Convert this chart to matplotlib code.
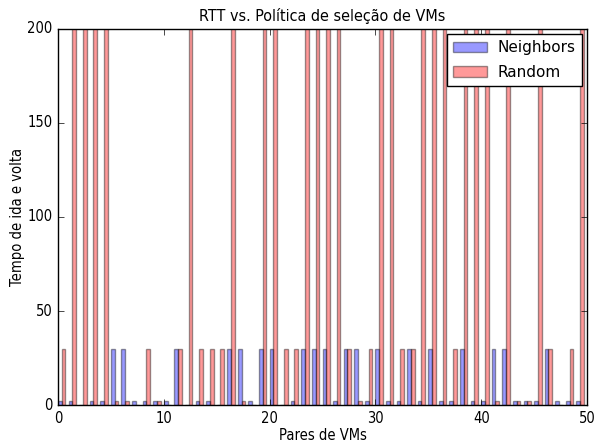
import matplotlib
matplotlib.use("Agg")
import matplotlib.pyplot as plt
import numpy as np

plt.style.use('classic')

pairs = list(range(50))
# values; tall Random bars are clipped at the 200 limit
neighbors = [2, 2, 0, 2, 2, 30, 30, 2, 2, 2,
             2, 30, 0, 2, 2, 0, 30, 30, 2, 30,
             30, 0, 2, 30, 30, 30, 2, 30, 30, 2,
             30, 2, 2, 30, 2, 30, 2, 2, 30, 2,
             2, 30, 30, 2, 2, 2, 30, 2, 2, 2]
random_ = [30, 300, 300, 300, 300, 2, 2, 0, 30, 2,
           0, 30, 300, 30, 30, 30, 300, 2, 0, 300,
           300, 30, 30, 300, 300, 300, 300, 30, 2, 30,
           300, 300, 30, 30, 300, 300, 300, 30, 300, 300,
           300, 2, 300, 2, 2, 300, 30, 0, 30, 300]

title = "RTT vs. Política de seleção de VMs"
xlabel = "Pares de VMs"
ylabel = "Tempo de ida e volta"
series_names = ["Neighbors", "Random"]

narrow = dict(family='DejaVu Sans', stretch='condensed')

fig = plt.figure(figsize=(5.94, 4.43), dpi=100, facecolor='white')
ax = fig.add_axes([58/594, 38/443, 529/594, 376/443])
ax.set_facecolor('white')

w = 0.35
x = np.array(pairs)
ax.bar(x, neighbors, w, align='edge', color='blue', alpha=0.4,
       edgecolor='black', label=series_names[0])
ax.bar(x + w, random_, w, align='edge', color='red', alpha=0.4,
       edgecolor='black', label=series_names[1])

ax.set_xlim(0, 50)
ax.set_ylim(0, 200)
ax.set_xticks([0, 10, 20, 30, 40, 50])
ax.set_yticks([0, 50, 100, 150, 200])
for lab in ax.get_xticklabels() + ax.get_yticklabels():
    lab.set_family('DejaVu Sans')
    lab.set_stretch('condensed')
    lab.set_fontsize(10.5)
ax.tick_params(axis='x', pad=4)
ax.tick_params(axis='y', pad=4)

ax.set_title(title, fontsize=11.5, pad=6, **narrow)
ax.set_xlabel(xlabel, fontsize=10.5, labelpad=2, **narrow)
ax.set_ylabel(ylabel, fontsize=10.5, labelpad=1.5, **narrow)

leg = ax.legend(loc='upper right', fontsize=11, handlelength=2.2,
                handletextpad=0.7, labelspacing=0.6,
                borderaxespad=0.35)

fig.savefig("out.png", dpi=100, facecolor='white')
